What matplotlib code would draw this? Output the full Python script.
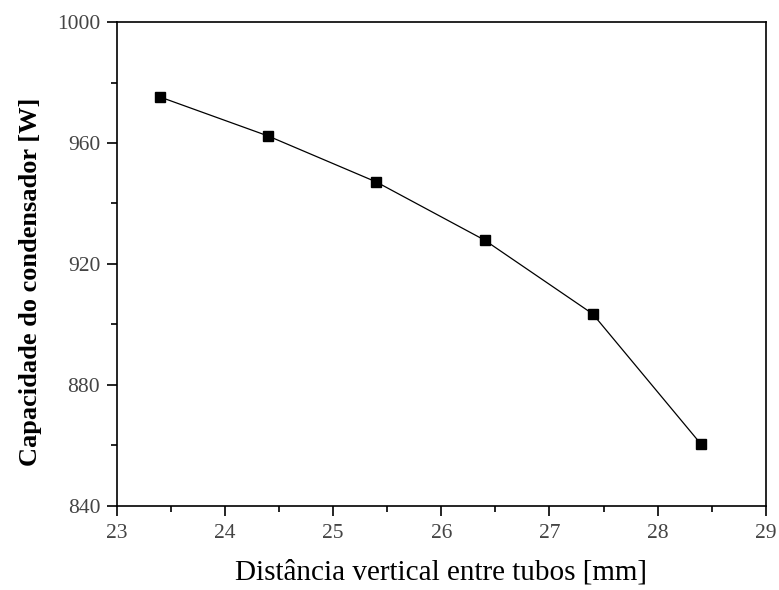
import matplotlib
matplotlib.use("Agg")
import matplotlib.pyplot as plt
from matplotlib.ticker import MultipleLocator

# Distância vertical entre tubos [mm] vs capacidade do condensador [W]
distancia = [23.4, 24.4, 25.4, 26.4, 27.4, 28.4]
capacidade = [975.2, 962.3, 947.1, 927.9, 903.5, 860.5]

plt.rcParams["font.family"] = ["Liberation Serif", "DejaVu Serif"]

fig = plt.figure(figsize=(7.79, 5.90), dpi=100)
ax = fig.add_axes([0.150, 0.1424, 0.833, 0.8203])

ax.plot(distancia, capacidade, color="black", linewidth=0.9,
        marker="s", markersize=6.5, markerfacecolor="black", markeredgecolor="black")

ax.set_xlim(23, 29)
ax.set_ylim(840, 1000)
ax.xaxis.set_major_locator(MultipleLocator(1))
ax.xaxis.set_minor_locator(MultipleLocator(0.5))
ax.yaxis.set_major_locator(MultipleLocator(40))
ax.yaxis.set_minor_locator(MultipleLocator(20))

ax.tick_params(which="major", direction="out", length=7, width=1.2,
               labelsize=15.5, labelcolor="#444444")
ax.tick_params(axis="y", which="major", pad=5)
ax.tick_params(axis="x", which="major", pad=6)
ax.tick_params(which="minor", direction="out", length=4, width=1.2)
for s in ax.spines.values():
    s.set_linewidth(1.2)

ax.set_xlabel("Distância vertical entre tubos [mm]", fontsize=21, labelpad=12)
ax.set_ylabel("Capacidade do condensador [W]", fontsize=19, fontweight="bold")
# place the rotated y label a bit lower and further left, as in the original
ax.yaxis.set_label_coords(-0.1156, 0.463)

fig.savefig("out.png", dpi=100)
